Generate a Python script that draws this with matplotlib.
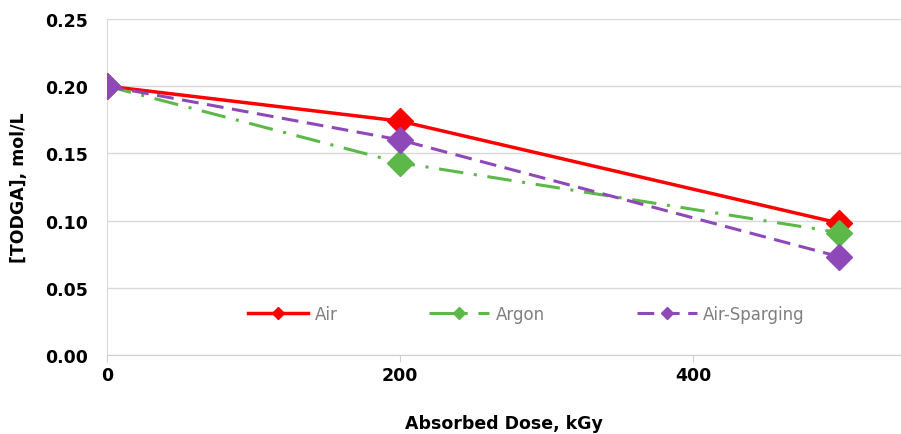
import matplotlib.pyplot as plt
from matplotlib.lines import Line2D

# Absorbed dose (kGy) and [TODGA] (mol/L)
dose = [0, 200, 500]
air = [0.200, 0.174, 0.098]
argon = [0.200, 0.143, 0.091]
air_sparging = [0.200, 0.160, 0.073]

plt.rcParams["font.family"] = ["DejaVu Sans"]

RED, GREEN, PURPLE = "#ff0000", "#5db84a", "#8e48b8"
DASHDOT = (0, (8, 3.5, 1, 3.5))
DASH = (0, (5.5, 2.8))

fig = plt.figure(figsize=(9.01, 4.35), dpi=100)
ax = fig.add_axes([0.119, 0.182, 0.881, 0.772])

ax.plot(dose, air, color=RED, lw=2.5, ls="-", marker="D", ms=13,
        label="Air", zorder=3)
ax.plot(dose, argon, color=GREEN, lw=2.2, ls=DASHDOT, marker="D",
        ms=13, label="Argon", zorder=3)
ax.plot(dose, air_sparging, color=PURPLE, lw=2.2, ls=DASH, marker="D",
        ms=13, label="Air-Sparging", zorder=3)

ax.set_xlim(0, 542)
ax.set_ylim(0, 0.25)
ax.set_xticks([0, 200, 400])
ax.set_yticks([0, 0.05, 0.10, 0.15, 0.20, 0.25])
ax.set_yticklabels([f"{v:.2f}" for v in ax.get_yticks()])
ax.grid(True, axis="y", color="#d9d9d9", lw=1)
ax.set_axisbelow(True)
for s in ["top", "right"]:
    ax.spines[s].set_visible(False)
ax.spines["left"].set_color("#d9d9d9")
ax.spines["bottom"].set_color("#d0d0d0")
ax.tick_params(axis="y", length=0, pad=14, labelsize=12.5)
ax.tick_params(axis="x", length=5, color="#d0d0d0", pad=3, labelsize=12.5)
for t in ax.get_xticklabels() + ax.get_yticklabels():
    t.set_fontweight("bold")

ax.set_xlabel("Absorbed Dose, kGy", fontsize=12.5, fontweight="bold", labelpad=22)
ax.set_ylabel("[TODGA], mol/L", fontsize=12.5, fontweight="bold", labelpad=12)

handles = [
    Line2D([], [], color=RED, lw=2.5, marker="D", ms=6),
    Line2D([], [], color=GREEN, lw=2.2, ls=DASHDOT, marker="D", ms=6),
    Line2D([], [], color=PURPLE, lw=2.2, ls=DASH, marker="D", ms=6),
]
leg = ax.legend(handles, ["Air", "Argon", "Air-Sparging"], ncol=3, frameon=False,
                loc="center", bbox_to_anchor=(0.528, 0.122), fontsize=12,
                handlelength=3.6, columnspacing=5.5, handletextpad=0.4)
for t in leg.get_texts():
    t.set_color("#7f7f7f")

fig.savefig("out.png", dpi=100)
